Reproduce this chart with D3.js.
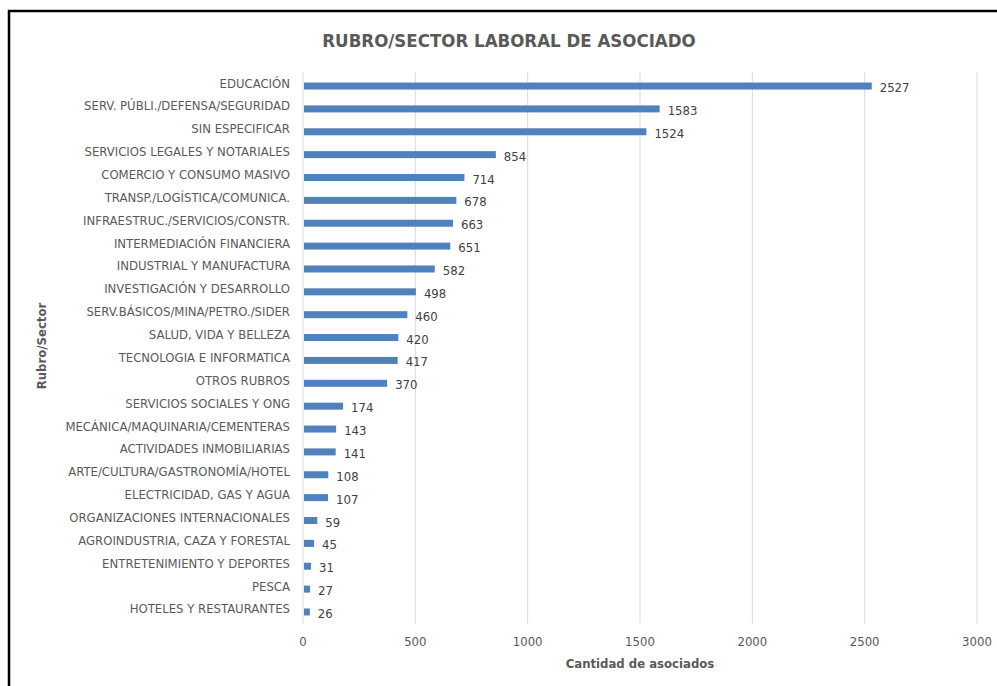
<!DOCTYPE html>
<html lang="es">
<head>
<meta charset="utf-8">
<title>Rubro/Sector laboral de asociado</title>
<script src="https://cdn.jsdelivr.net/npm/d3@7"></script>
<style>
  body { margin: 0; background: #fff; }
  text { font-family: "Liberation Sans Narrow", "DejaVu Sans Condensed", "Open Sans", sans-serif; }
</style>
</head>
<body>
<script>
  var w = 997, h = 686;

  var categories = [
    "EDUCACIÓN", "SERV. PÚBLI./DEFENSA/SEGURIDAD", "SIN ESPECIFICAR",
    "SERVICIOS LEGALES Y NOTARIALES", "COMERCIO Y CONSUMO MASIVO",
    "TRANSP./LOGÍSTICA/COMUNICA.", "INFRAESTRUC./SERVICIOS/CONSTR.",
    "INTERMEDIACIÓN FINANCIERA", "INDUSTRIAL Y MANUFACTURA",
    "INVESTIGACIÓN Y DESARROLLO", "SERV.BÁSICOS/MINA/PETRO./SIDER",
    "SALUD, VIDA Y BELLEZA", "TECNOLOGIA E INFORMATICA", "OTROS RUBROS",
    "SERVICIOS SOCIALES Y ONG", "MECÁNICA/MAQUINARIA/CEMENTERAS",
    "ACTIVIDADES INMOBILIARIAS", "ARTE/CULTURA/GASTRONOMÍA/HOTEL",
    "ELECTRICIDAD, GAS Y AGUA", "ORGANIZACIONES INTERNACIONALES",
    "AGROINDUSTRIA, CAZA Y FORESTAL", "ENTRETENIMIENTO Y DEPORTES",
    "PESCA", "HOTELES Y RESTAURANTES"
  ];
  var values = [2527, 1583, 1524, 854, 714, 678, 663, 651, 582, 498, 460, 420,
                417, 370, 174, 143, 141, 108, 107, 59, 45, 31, 27, 26];
  var xTicks = [0, 500, 1000, 1500, 2000, 2500, 3000];

  var plotL = 303, plotR = 977, plotT = 74.6, plotB = 623.4;

  var svg = d3.select("body").append("svg")
      .attr("width", w).attr("height", h);

  // marco negro
  svg.append("rect")
      .attr("x", 9).attr("y", 11)
      .attr("width", w + 10).attr("height", h + 10)
      .attr("fill", "none").attr("stroke", "#000").attr("stroke-width", 2.5);

  var x = d3.scaleLinear().domain([0, 3000]).range([plotL, plotR]);
  var y = d3.scaleBand().domain(categories).range([plotT, plotB]);

  // grid
  svg.append("g").selectAll("line")
      .data(xTicks.slice(1))
      .enter().append("line")
      .attr("x1", function(d) { return x(d); })
      .attr("x2", function(d) { return x(d); })
      .attr("y1", 72).attr("y2", plotB)
      .attr("stroke", "#d9d9d9").attr("stroke-width", 1);

  // eje vertical
  svg.append("line")
      .attr("x1", plotL).attr("x2", plotL)
      .attr("y1", 72).attr("y2", plotB)
      .attr("stroke", "#d9d9d9").attr("stroke-width", 1);

  // ticks eje x
  svg.append("g").selectAll("text")
      .data(xTicks)
      .enter().append("text")
      .attr("x", function(d) { return x(d); })
      .attr("y", 646)
      .attr("text-anchor", "middle")
      .attr("font-size", 13)
      .attr("fill", "#595959")
      .text(function(d) { return d; });

  // categorias
  svg.append("g").selectAll("text")
      .data(categories)
      .enter().append("text")
      .attr("x", 290)
      .attr("y", function(d) { return y(d) + y.bandwidth() / 2 + 1.5; })
      .attr("text-anchor", "end")
      .attr("font-size", 13)
      .attr("fill", "#595959")
      .text(function(d) { return d; });

  // barras
  svg.append("g").selectAll("rect")
      .data(values)
      .enter().append("rect")
      .attr("x", x(0) + 1)
      .attr("y", function(d, i) { return y(categories[i]) + y.bandwidth() / 2 - 3.5; })
      .attr("width", function(d) { return x(d) - x(0); })
      .attr("height", 7)
      .attr("fill", "#4f81bd");

  // valores
  svg.append("g").selectAll("text")
      .data(values)
      .enter().append("text")
      .attr("x", function(d) { return x(d) + 9; })
      .attr("y", function(d, i) { return y(categories[i]) + y.bandwidth() / 2 + 6; })
      .attr("font-size", 13)
      .attr("fill", "#404040")
      .text(function(d) { return d; });

  // titulo
  svg.append("text")
      .attr("x", 509).attr("y", 47)
      .attr("text-anchor", "middle")
      .attr("font-size", 18.5)
      .attr("font-weight", "bold")
      .attr("fill", "#595959")
      .text("RUBRO/SECTOR LABORAL DE ASOCIADO");

  svg.append("text")
      .attr("x", 640).attr("y", 668)
      .attr("text-anchor", "middle")
      .attr("font-size", 13)
      .attr("font-weight", "bold")
      .attr("fill", "#595959")
      .text("Cantidad de asociados");

  svg.append("text")
      .attr("transform", "translate(46,346) rotate(-90)")
      .attr("text-anchor", "middle")
      .attr("font-size", 13)
      .attr("font-weight", "bold")
      .attr("fill", "#595959")
      .text("Rubro/Sector");
</script>
</body>
</html>
